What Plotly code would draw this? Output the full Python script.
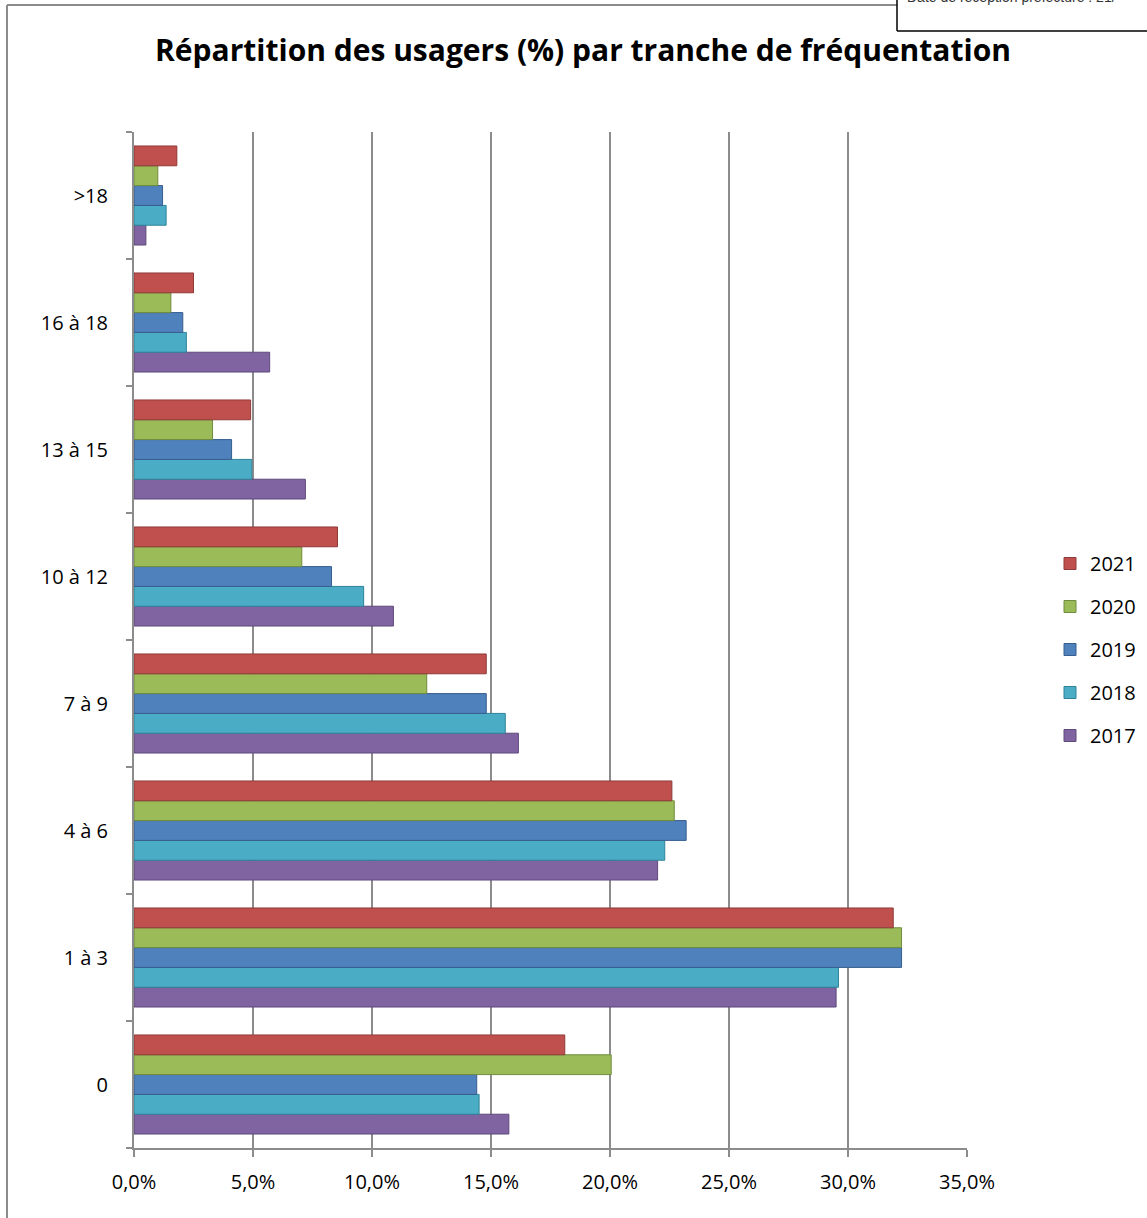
import plotly.graph_objects as go

categories = ["0", "1 à 3", "4 à 6", "7 à 9", "10 à 12", "13 à 15", "16 à 18", ">18"]
years = ["2017", "2018", "2019", "2020", "2021"]
v2017 = [15.75, 29.5, 22.0, 16.15, 10.9, 7.2, 5.7, 0.5]
v2018 = [14.5, 29.6, 22.3, 15.6, 9.65, 4.95, 2.2, 1.35]
v2019 = [14.4, 32.25, 23.2, 14.8, 8.3, 4.1, 2.05, 1.2]
v2020 = [20.05, 32.25, 22.7, 12.3, 7.05, 3.3, 1.55, 1.0]
v2021 = [18.1, 31.9, 22.6, 14.8, 8.55, 4.9, 2.5, 1.8]
series = [v2017, v2018, v2019, v2020, v2021]
colors = ["#8064A2", "#4BACC6", "#4F81BD", "#9BBB59", "#C0504D"]
edges = ["#5E4A7A", "#2F8399", "#375E8E", "#718C3E", "#8E3A38"]
x_ticks = [0, 5, 10, 15, 20, 25, 30, 35]
x_tick_labels = ["0,0%", "5,0%", "10,0%", "15,0%", "20,0%", "25,0%", "30,0%", "35,0%"]

W, H = 1147, 1218
L, R, T, B = 134, 967, 132, 1148
FONT = "Open Sans, Lato, sans-serif"


def px(p):
    return (p - L) / (R - L)


def py(p):
    return (B - p) / (B - T)


fig = go.Figure()
for i, (yr, vals) in enumerate(zip(years, series)):
    fig.add_trace(go.Bar(
        y=categories, x=vals, name=yr, orientation="h",
        marker=dict(color=colors[i], line=dict(color=edges[i], width=1)),
        legendgroup=yr, legendrank=len(years) - i,
    ))

fig.update_layout(
    width=W, height=H,
    margin=dict(l=L, r=W - R, t=T, b=H - B, autoexpand=False),
    paper_bgcolor="white", plot_bgcolor="white",
    barmode="group", bargap=0.22, bargroupgap=0.0,
    font=dict(family=FONT, size=20, color="#000000"),
    title=dict(
        text="<b>Répartition des usagers (%) par tranche de fréquentation</b>",
        x=583 / W, xanchor="center", y=1 - 50 / H, yanchor="middle",
        font=dict(family=FONT, size=30, color="#000000"),
    ),
    xaxis=dict(
        range=[0, 35], tickvals=x_ticks, ticktext=x_tick_labels,
        showgrid=True, gridcolor="#8c8c8c", gridwidth=2,
        showline=True, linecolor="#8c8c8c", linewidth=2,
        ticks="outside", ticklen=7, tickcolor="#8c8c8c", tickwidth=2,
        zeroline=False, fixedrange=True, ticklabelstandoff=8,
        tickfont=dict(size=20), automargin=False,
    ),
    yaxis=dict(
        type="category", categoryorder="array", categoryarray=categories,
        showline=True, linecolor="#8c8c8c", linewidth=2,
        ticks="outside", tickson="boundaries", ticklen=6,
        tickcolor="#8c8c8c", tickwidth=2, showgrid=False,
        ticklabelstandoff=20, tickfont=dict(size=20), automargin=False,
    ),
    legend=dict(
        x=px(1050), xanchor="left", y=py(649.5), yanchor="middle",
        traceorder="grouped", tracegroupgap=14,
        font=dict(size=20), itemwidth=30, bgcolor="rgba(0,0,0,0)",
    ),
)

# outer chart border (left + top) and clipped header box
fig.add_shape(type="line", xref="paper", yref="paper",
              x0=px(7), x1=px(7), y0=py(5), y1=py(1230),
              line=dict(color="#8c8c8c", width=2))
fig.add_shape(type="line", xref="paper", yref="paper",
              x0=px(7), x1=px(897), y0=py(5), y1=py(5),
              line=dict(color="#8c8c8c", width=2))
fig.add_shape(type="line", xref="paper", yref="paper",
              x0=px(897), x1=px(897), y0=py(-5), y1=py(31),
              line=dict(color="#000000", width=1.5))
fig.add_shape(type="line", xref="paper", yref="paper",
              x0=px(897), x1=px(1160), y0=py(31), y1=py(31),
              line=dict(color="#000000", width=1.5))
fig.add_annotation(xref="paper", yref="paper", x=px(905), y=py(7),
                   xanchor="left", yanchor="bottom", showarrow=False,
                   text="Date de réception préfecture : 21/",
                   font=dict(family="Liberation Sans, Arial", size=14, color="#333333"))

fig.write_html("out.html", config={"displayModeBar": False},
               post_script="document.body.style.margin='0';")
